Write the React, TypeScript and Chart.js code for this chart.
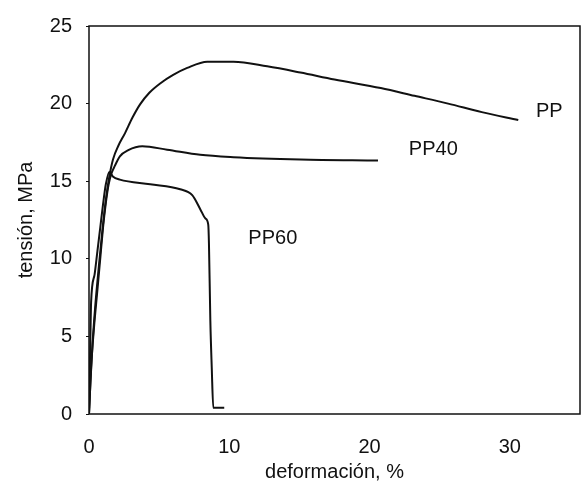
import React, { useEffect, useRef } from "react";
import { Chart, registerables } from "chart.js";

Chart.register(...registerables);

// Stress-strain data (deformación %, tensión MPa)
const ppX = [0, 0.1, 0.25, 0.45, 0.7, 0.95, 1.2, 1.45, 1.71, 2.1, 2.57, 3.1, 3.64, 4.3, 5.07, 6.0, 7.0, 8.43, 10.3, 12.7, 15.07, 17.5, 20.8, 23.2, 25.6, 28.0, 30.6];
const ppY = [0, 2.0, 4.5, 7.0, 9.5, 11.8, 13.8, 15.3, 16.4, 17.3, 18.1, 19.1, 19.95, 20.7, 21.3, 21.85, 22.3, 22.7, 22.7, 22.4, 22.0, 21.55, 21.0, 20.5, 20.0, 19.45, 18.94];

const pp40X = [0, 0.15, 0.35, 0.6, 0.8, 1.0, 1.2, 1.4, 1.6, 1.85, 2.2, 2.8, 3.8, 5.57, 7.93, 10.3, 15.07, 20.6];
const pp40Y = [0, 3.0, 5.5, 8.0, 10.0, 12.0, 13.6, 14.8, 15.5, 16.0, 16.6, 17.0, 17.25, 17.03, 16.7, 16.55, 16.4, 16.33];

const pp60X = [0, 0.05, 0.1, 0.15, 0.4, 0.6, 0.8, 1.0, 1.2, 1.45, 1.7, 2.2, 4.36, 6.5, 7.36, 7.93, 8.3, 8.5, 8.55, 8.65, 8.75, 8.86, 9.64];
const pp60Y = [0, 2.5, 5.0, 7.2, 9.0, 10.5, 12.0, 13.5, 14.8, 15.6, 15.3, 15.1, 14.8, 14.48, 14.1, 13.2, 12.6, 12.2, 11.0, 6.0, 3.0, 0.4, 0.4];

const seriesNames = ["PP", "PP40", "PP60"];
const labelX = [31.86, 22.8, 11.36];
const labelY = [19.5, 17.03, 11.29];

const xTicks = [0, 10, 20, 30];
const yTicks = [0, 5, 10, 15, 20, 25];

const FONT = "'Liberation Sans', Arial, sans-serif";

const toPts = (xs: number[], ys: number[]) => xs.map((x, i) => ({ x, y: ys[i] }));

const boxAndLabels = {
  id: "boxAndLabels",
  afterDatasetsDraw(chart: any) {
    const { ctx, chartArea, scales } = chart;
    ctx.save();
    ctx.strokeStyle = "#111";
    ctx.lineWidth = 1.5;
    ctx.strokeRect(chartArea.left, chartArea.top, chartArea.right - chartArea.left, chartArea.bottom - chartArea.top);
    ctx.fillStyle = "#111";
    ctx.font = `20px ${FONT}`;
    ctx.textAlign = "left";
    ctx.textBaseline = "middle";
    seriesNames.forEach((name, i) => {
      ctx.fillText(name, scales.x.getPixelForValue(labelX[i]), scales.y.getPixelForValue(labelY[i]));
    });
    ctx.restore();
  },
};

export default function App() {
  const ref = useRef<HTMLCanvasElement | null>(null);
  useEffect(() => {
    if (!ref.current) return;
    const mk = (label: string, xs: number[], ys: number[]) => ({
      label,
      data: toPts(xs, ys),
      borderColor: "#111",
      borderWidth: 2,
      pointRadius: 0,
      fill: false,
      cubicInterpolationMode: "monotone" as const,
    });
    const chart = new Chart(ref.current, {
      type: "line",
      data: {
        datasets: [mk("PP", ppX, ppY), mk("PP40", pp40X, pp40Y), mk("PP60", pp60X, pp60Y)],
      },
      options: {
        animation: false,
        responsive: false,
        layout: { padding: { top: 22, right: 2, left: 0, bottom: 0 } },
        plugins: { legend: { display: false }, tooltip: { enabled: false }, title: { display: false } },
        scales: {
          x: {
            type: "linear",
            min: 0,
            max: 35,
            afterBuildTicks: (s: any) => {
              s.ticks = xTicks.map((v) => ({ value: v }));
            },
            afterFit: (s: any) => {
              s.height = 68;
            },
            grid: { display: true, drawOnChartArea: false, drawTicks: false, color: "#111" },
            border: { display: false },
            ticks: { color: "#111", font: { family: FONT, size: 20, lineHeight: 1.2 }, padding: 21, maxRotation: 0 },
            title: {
              display: true,
              text: "deformación, %",
              color: "#111",
              font: { family: FONT, size: 20, lineHeight: 1.0 },
              padding: { top: 0, bottom: 0 },
            },
          },
          y: {
            type: "linear",
            min: 0,
            max: 25,
            afterBuildTicks: (s: any) => {
              s.ticks = yTicks.map((v) => ({ value: v }));
            },
            afterFit: (s: any) => {
              s.width = 89;
            },
            grid: { display: true, drawOnChartArea: false, drawTicks: true, tickLength: 3, color: "#111" },
            border: { display: false },
            ticks: { color: "#111", font: { family: FONT, size: 20, lineHeight: 1.2 }, padding: 14 },
            title: {
              display: true,
              text: "tensión, MPa",
              color: "#111",
              font: { family: FONT, size: 20, lineHeight: 1.2 },
              padding: { top: 14, bottom: 0 },
            },
          },
        },
      },
      plugins: [boxAndLabels],
    } as any);
    return () => chart.destroy();
  }, []);
  return (
    <div style={{ position: "absolute", left: 0, top: 0, width: 582, height: 482, background: "#fff" }}>
      <canvas ref={ref} width={582} height={482} style={{ display: "block" }} />
    </div>
  );
}
